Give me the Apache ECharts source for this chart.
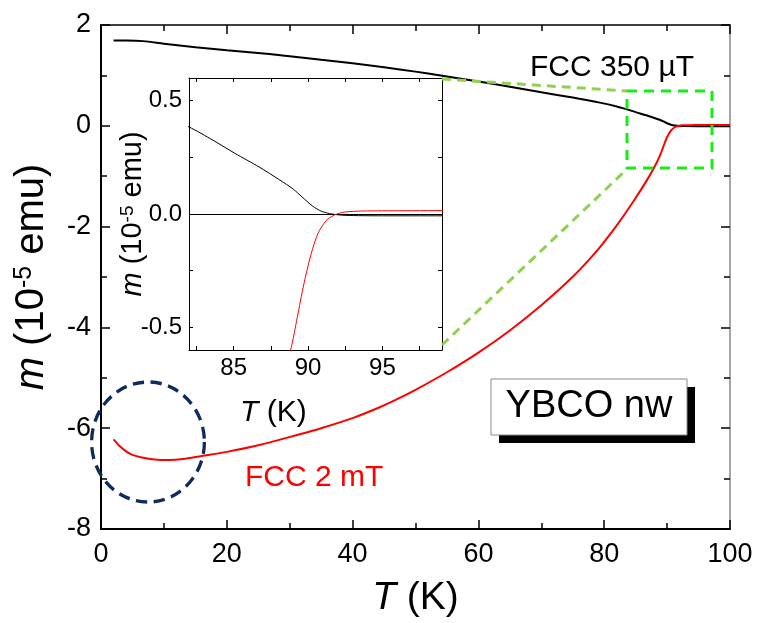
<!DOCTYPE html>
<html><head><meta charset="utf-8">
<script src="https://cdn.jsdelivr.net/npm/echarts@6/dist/echarts.min.js"></script>
<style>html,body{margin:0;padding:0;background:#fff}#c{width:757px;height:623px}</style>
</head><body><div id="c"></div><script>
// ---- data ----
const blackT = [2, 4, 6.7, 10, 15, 20, 26.3, 30, 35, 40, 45, 50, 54, 60, 65, 70, 75, 79.3, 82, 83.6, 85.1, 86.7, 88.1, 89.0, 89.6, 90.3, 90.9, 91.6, 92.5, 95, 99, 100];
const blackM = [1.69, 1.69, 1.68, 1.63, 1.56, 1.50, 1.43, 1.38, 1.31, 1.24, 1.16, 1.075, 1.0, 0.88, 0.775, 0.665, 0.56, 0.46, 0.384, 0.326, 0.267, 0.208, 0.15, 0.11, 0.075, 0.035, 0.012, 0.0, -0.006, -0.008, -0.008, -0.008];
const redT = [2, 3, 4, 5, 6.5, 8.5, 11, 13, 16, 20, 25, 31.6, 35, 40, 44.4, 47.5, 50, 55, 60, 65, 70, 75, 79, 82, 84.6, 86.75, 88.0, 88.9, 89.33, 89.78, 90.22, 90.67, 91.22, 91.78, 92.5, 93.6, 95, 99, 100];
const redM = [-6.22, -6.36, -6.46, -6.53, -6.58, -6.62, -6.63, -6.61, -6.55, -6.47, -6.34, -6.12, -6.0, -5.8, -5.58, -5.40, -5.24, -4.89, -4.50, -4.06, -3.56, -2.995, -2.455, -1.975, -1.507, -1.088, -0.813, -0.58, -0.437, -0.29, -0.173, -0.085, -0.029, -0.004, 0.009, 0.013, 0.014, 0.015, 0.015];
const insetXTicks = [82.5, 85, 87.5, 90, 92.5, 95, 97.5];
const insetXLabels = [85, 90, 95];
const insetYTicks = [-0.5, -0.25, 0, 0.25, 0.5];
const insetYLabels = [-0.5, 0, 0.5];
const labelHigh = 'FCC 350 µT';
const labelLow = 'FCC 2 mT';
const sampleLabel = 'YBCO nw';

const zip = (a, b) => a.map((v, i) => [v, b[i]]);
const FF = 'Liberation Sans, Arial, Helvetica, sans-serif';

const chart = echarts.init(document.getElementById('c'), null, {renderer: 'canvas'});

const mainTick = {show: true, inside: true, length: 9, lineStyle: {color: '#000', width: 1.5}};
const mainMinor = {show: true, splitNumber: 2, length: 6, lineStyle: {color: '#000', width: 1.5}};
const insetTickX = {show: true, inside: true, length: 4, customValues: insetXTicks, lineStyle: {color: '#000', width: 1}};
const insetTickY = {show: true, inside: true, length: 4, customValues: insetYTicks, lineStyle: {color: '#000', width: 1}};

const option = {
  animation: false,
  backgroundColor: '#fff',
  grid: [
    {left: 101, top: 25, width: 629, height: 505, containLabel: false},
    {left: 189, top: 78, width: 253, height: 272, containLabel: false, show: true, backgroundColor: '#fff', borderWidth: 0}
  ],
  xAxis: [
    {type: 'value', gridIndex: 0, min: 0, max: 100, interval: 20, position: 'bottom',
     axisLine: {show: true, onZero: false, lineStyle: {color: '#000', width: 2}},
     axisTick: mainTick, minorTick: mainMinor, splitLine: {show: false},
     axisLabel: {fontSize: 27, color: '#000', margin: 12, fontFamily: FF},
     name: '{i|T} (K)', nameLocation: 'middle', nameGap: 50, nameMoveOverlap: false,
     nameTextStyle: {fontSize: 39, color: '#000', fontFamily: FF,
       rich: {i: {fontSize: 39, fontStyle: 'italic', fontFamily: FF, color: '#000'}}}},
    {type: 'value', gridIndex: 0, min: 0, max: 100, interval: 20, position: 'top',
     axisLine: {show: true, onZero: false, lineStyle: {color: '#000', width: 1.5}},
     axisTick: mainTick, minorTick: mainMinor, splitLine: {show: false}, axisLabel: {show: false}},
    {type: 'value', gridIndex: 1, min: 82, max: 99, position: 'bottom',
     axisLine: {show: true, onZero: false, lineStyle: {color: '#000', width: 1}},
     axisTick: insetTickX, splitLine: {show: false},
     axisLabel: {customValues: insetXLabels, fontSize: 24, color: '#000', margin: 6, fontFamily: FF}},
    {type: 'value', gridIndex: 1, min: 82, max: 99, position: 'top',
     axisLine: {show: true, onZero: false, lineStyle: {color: '#000', width: 1}},
     axisTick: insetTickX, splitLine: {show: false}, axisLabel: {show: false}}
  ],
  yAxis: [
    {type: 'value', gridIndex: 0, min: -8, max: 2, interval: 2, position: 'left',
     axisLine: {show: true, onZero: false, lineStyle: {color: '#000', width: 2}},
     axisTick: mainTick, minorTick: mainMinor, splitLine: {show: false},
     axisLabel: {fontSize: 27, color: '#000', margin: 10, fontFamily: FF},
     name: '{i|m} (10{s|-5} emu)', nameLocation: 'middle', nameGap: 49, nameMoveOverlap: false,
     nameTextStyle: {fontSize: 40, color: '#000', fontFamily: FF,
       rich: {i: {fontSize: 40, fontStyle: 'italic', fontFamily: FF, color: '#000'},
              s: {fontSize: 25, fontFamily: FF, color: '#000', verticalAlign: 'top'}}}},
    {type: 'value', gridIndex: 0, min: -8, max: 2, interval: 2, position: 'right',
     axisLine: {show: true, onZero: false, lineStyle: {color: '#888', width: 1.5}},
     axisTick: mainTick, minorTick: mainMinor, splitLine: {show: false}, axisLabel: {show: false}},
    {type: 'value', gridIndex: 1, min: -0.6, max: 0.6, position: 'left',
     axisLine: {show: true, onZero: false, lineStyle: {color: '#000', width: 1}},
     axisTick: insetTickY, splitLine: {show: false},
     axisLabel: {customValues: insetYLabels, fontSize: 24, color: '#000', margin: 7, fontFamily: FF,
       formatter: v => Number(v).toFixed(1)},
     name: '{i|m} (10{s|-5} emu)', nameLocation: 'middle', nameGap: 42, nameMoveOverlap: false,
     nameTextStyle: {fontSize: 29, color: '#000', fontFamily: FF,
       rich: {i: {fontSize: 29, fontStyle: 'italic', fontFamily: FF, color: '#000'},
              s: {fontSize: 19, fontFamily: FF, color: '#000', verticalAlign: 'top'}}}},
    {type: 'value', gridIndex: 1, min: -0.6, max: 0.6, position: 'right',
     axisLine: {show: true, onZero: false, lineStyle: {color: '#000', width: 1}},
     axisTick: insetTickY, splitLine: {show: false}, axisLabel: {show: false}}
  ],
  series: [
    {type: 'line', xAxisIndex: 0, yAxisIndex: 0, data: zip(blackT, blackM), showSymbol: false, symbol: 'none',
     smooth: 0.3, lineStyle: {color: '#000', width: 2}, z: 3},
    {type: 'line', xAxisIndex: 0, yAxisIndex: 0, data: zip(redT, redM), showSymbol: false, symbol: 'none',
     smooth: 0.3, lineStyle: {color: '#ff0000', width: 2}, z: 4},
    {type: 'line', xAxisIndex: 2, yAxisIndex: 2, data: zip(blackT, blackM), showSymbol: false, symbol: 'none',
     smooth: 0.25, clip: true, lineStyle: {color: '#000', width: 1}, z: 5,
     markLine: {silent: true, symbol: ['none', 'none'], animation: false, label: {show: false},
       lineStyle: {color: '#000', width: 1, type: 'solid'}, data: [{yAxis: 0}]}},
    {type: 'line', xAxisIndex: 2, yAxisIndex: 2, data: zip(redT, redM), showSymbol: false, symbol: 'none',
     smooth: 0.25, clip: true, lineStyle: {color: '#ff0000', width: 1}, z: 6}
  ],
  graphic: [
    {type: 'rect', z: 50, shape: {x: 627, y: 91, width: 85, height: 77},
     style: {fill: 'none', stroke: '#14ee14', lineWidth: 3, lineDash: [10, 7]}},
    {type: 'line', z: 50, shape: {x1: 442, y1: 79, x2: 627, y2: 91},
     style: {stroke: '#92d050', lineWidth: 3, lineDash: [9, 6]}},
    {type: 'line', z: 50, shape: {x1: 442, y1: 345, x2: 624, y2: 172},
     style: {stroke: '#92d050', lineWidth: 3, lineDash: [9, 6]}},
    {type: 'circle', z: 50, x: 148, y: 442, scaleX: 0.94, shape: {cx: 0, cy: 0, r: 60},
     style: {fill: 'none', stroke: '#0f2a5c', lineWidth: 3.5, lineDash: [12, 7]}},
    {type: 'text', z: 50, x: 530, y: 68,
     style: {text: labelHigh, fontSize: 30, fontFamily: FF, fill: '#000', verticalAlign: 'middle', align: 'left'}},
    {type: 'text', z: 50, x: 245, y: 478,
     style: {text: labelLow, fontSize: 30, fontFamily: FF, fill: '#ff0000', verticalAlign: 'middle', align: 'left'}},
    {type: 'text', z: 50, x: 240, y: 413,
     style: {text: '{i|T} (K)', fontSize: 30, fontFamily: FF, fill: '#000', verticalAlign: 'middle', align: 'left',
       rich: {i: {fontSize: 30, fontStyle: 'italic', fontFamily: FF, fill: '#000'}}}},
    {type: 'rect', z: 50, shape: {x: 499, y: 387, width: 196, height: 56}, style: {fill: '#000'}},
    {type: 'rect', z: 51, shape: {x: 491, y: 379, width: 196, height: 56},
     style: {fill: '#fff', stroke: '#888', lineWidth: 1}},
    {type: 'text', z: 52, x: 589, y: 407,
     style: {text: sampleLabel, fontSize: 38, fontFamily: FF, fill: '#000', verticalAlign: 'middle', align: 'center'}}
  ]
};
chart.setOption(option);
</script></body></html>
